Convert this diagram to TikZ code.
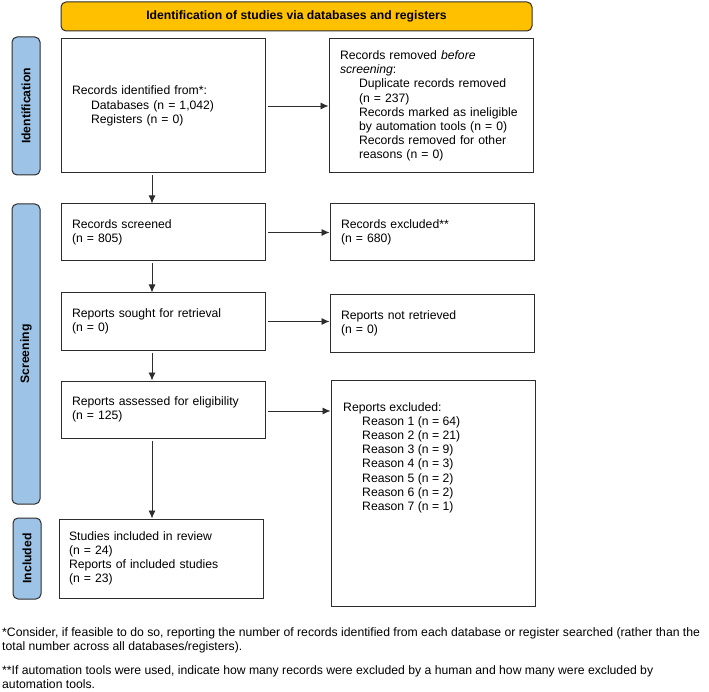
\documentclass[tikz,border=0pt]{standalone}
\usepackage{fontspec}
\setmainfont{Liberation Sans}
\usetikzlibrary{arrows.meta}
\definecolor{stageblue}{RGB}{157,195,230}
\definecolor{bannergold}{RGB}{255,192,0}
\definecolor{edge}{RGB}{45,45,45}
\tikzstyle{box}=[draw=edge, line width=1pt, rectangle, align=left, inner xsep=11pt, text width=182pt, minimum width=204pt, font=\fontsize{12.2}{14.2}\selectfont]
\tikzset{stage/.style={draw=edge, line width=1pt, fill=stageblue, rounded corners=5pt, rotate=90, minimum height=28pt, font=\fontsize{12.2}{14.2}\selectfont\bfseries}}
\tikzset{flow/.style={-{Latex[length=8pt,width=7pt]}, line width=0.9pt, edge, shorten <=2pt}}
\newcommand{\ind}{\hspace*{19pt}}

\begin{document}
\begin{tikzpicture}[x=1pt,y=-1pt]
  \useasboundingbox (0,0) rectangle (709,692);
  \draw (296.5,16.5) node[draw=edge, line width=1pt, fill=bannergold, rounded corners=5pt, minimum width=471pt, minimum height=29pt, font=\fontsize{12.2}{14.2}\selectfont\bfseries] (Banner) {Identification of studies via databases and registers};

  %% phase bars
  \draw (26,106) node[stage, minimum width=138pt] (IdentBar) {Identification};
  \draw (26,354) node[stage, minimum width=300pt] (ScreenBar) {Screening};
  \draw (27,558.5) node[stage, minimum width=81pt] (InclBar) {Included};

  %% main column
  \draw (163,106) node[box, minimum height=134pt] (Ident) {Records identified from*:\\\ind Databases (n = 1,042)\\\ind Registers (n = 0)};
  \draw (163,232.5) node[box, minimum height=57pt] (Screened) {Records screened\\(n = 805)};
  \draw (163,321.5) node[box, minimum height=57pt] (Sought) {Reports sought for retrieval\\(n = 0)};
  \draw (163,409.5) node[box, minimum height=57pt] (Assessed) {Reports assessed for eligibility\\(n = 125)};
  \draw (161,558.5) node[box, minimum height=79pt, inner xsep=10pt, text width=184pt] (Included) {Studies included in review\\(n = 24)\\Reports of included studies\\(n = 23)};

  %% side column
  \draw (431,106) node[box, minimum height=134pt] (Removed) {Records removed \textit{before}\\\textit{screening}:\\\ind Duplicate records removed\\\ind (n = 237)\\\ind Records marked as ineligible\\\ind by automation tools (n = 0)\\\ind Records removed for other\\\ind reasons (n = 0)};
  \draw (432,232.5) node[box, minimum height=57pt] (Excluded) {Records excluded**\\(n = 680)};
  \draw (432,323.5) node[box, minimum height=57pt] (NotRetrieved) {Reports not retrieved\\(n = 0)};
  \draw (433,493) node[box, minimum height=226pt] (ReportsExcl) {};
  \draw (343,402) node[anchor=north west, inner sep=0pt, align=left, font=\fontsize{12.2}{14.2}\selectfont] (ReasonList) {Reports excluded:\\\ind Reason 1 (n = 64)\\\ind Reason 2 (n = 21)\\\ind Reason 3 (n = 9)\\\ind Reason 4 (n = 3)\\\ind Reason 5 (n = 2)\\\ind Reason 6 (n = 2)\\\ind Reason 7 (n = 1)};

  %% arrows
  \coordinate (spine) at (152,0);
  \draw[flow] (Ident.south -| spine) -- (Screened.north -| spine);
  \draw[flow] (Screened.south -| spine) -- (Sought.north -| spine);
  \draw[flow] (Sought.south -| spine) -- (Assessed.north -| spine);
  \draw[flow] (Assessed.south -| spine) -- (Included.north -| spine);

  \draw[flow] (Ident.east) -- (Removed.west);
  \draw[flow] (Screened.east) -- (Excluded.west);
  \draw[flow] (Sought.east) -- (Sought.east -| NotRetrieved.west);
  \draw[flow] ([yshift=-1.5pt]Assessed.east) -- ([yshift=-1.5pt]Assessed.east -| ReportsExcl.west);

  %% footnotes
  \draw (2,627) node[anchor=north west, inner sep=0pt, align=left, font=\fontsize{12.2}{14}\selectfont] (Notes) {*Consider, if feasible to do so, reporting the number of records identified from each database or register searched (rather than the\\total number across all databases/registers).\\[10pt]**If automation tools were used, indicate how many records were excluded by a human and how many were excluded by\\automation tools.};
\end{tikzpicture}
\end{document}
